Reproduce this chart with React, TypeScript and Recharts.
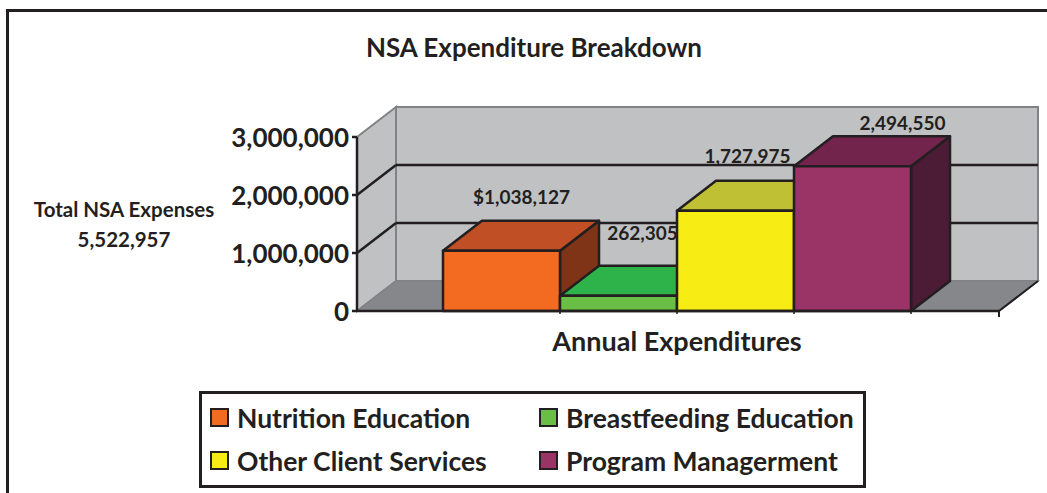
import React from 'react'
import { BarChart, Bar, XAxis, YAxis, CartesianGrid, Legend, LabelList, usePlotArea } from 'recharts'

const categories = ['Annual Expenditures']
const seriesNames = ['Nutrition Education', 'Breastfeeding Education', 'Other Client Services', 'Program Managerment']
const seriesValues = [1038127, 262305, 1727975, 2494550]
const labelPrefixes = ['$', '', '', '']
const yTicks = [0, 1000000, 2000000, 3000000]
const gridValues = [1000000, 2000000]

const frontColors = ['#f36a21', '#6abd45', '#f7ec13', '#9a3366']
const topColors = ['#c04f25', '#2eb34a', '#bfc033', '#72244d']
const sideColors = ['#7f3418', '#1e7a30', '#8a8a10', '#4c1b35']

// hand placed data labels, offset from the bar's front top centre
const labelNudgeX = [20, 24, 12, 50]
const labelNudgeY = [-54, -63, -55, -44]

const totalLabel = 'Total NSA Expenses'
const totalValue = '5,522,957'

const DEPTH_X = 39
const DEPTH_Y = 30
const INK = '#231f20'
const WALL = '#c0c1c3'
const WALL_EDGE = '#808285'
const FLOOR = '#86878a'
const FONT = 'Lato, sans-serif'

const table = categories.map((name) => {
  const row: Record<string, string | number> = { name }
  seriesNames.forEach((s, i) => {
    row[s] = seriesValues[i]
  })
  return row
})

const fmt = (v: number) => v.toLocaleString('en-US')

function Walls() {
  const plot = usePlotArea()
  if (!plot) return null
  const { x, y, width, height } = plot
  const r = x + width
  const b = y + height
  const bx = x + DEPTH_X
  const brx = r + DEPTH_X
  const by = y - DEPTH_Y
  const bb = b - DEPTH_Y
  return (
    <g>
      <polygon points={`${bx},${by} ${brx},${by} ${brx},${bb} ${bx},${bb}`} fill={WALL} stroke={WALL_EDGE} strokeWidth={2} />
      <polygon points={`${x},${y} ${bx},${by} ${bx},${bb} ${x},${b}`} fill={WALL} stroke={WALL_EDGE} strokeWidth={2} />
      <polygon points={`${x},${b} ${bx},${bb} ${brx},${bb} ${r},${b}`} fill={FLOOR} stroke={WALL_EDGE} strokeWidth={1.5} />
      <line x1={r} y1={b} x2={brx} y2={bb} stroke={INK} strokeWidth={2} />
      <line x1={r} y1={b} x2={r} y2={b + 6} stroke={INK} strokeWidth={2} />
    </g>
  )
}

// gridline runs up the side wall, then along the back wall.
// the walls go in with the first line so they stay underneath the grid
function gridLine(props: any) {
  const { x1, x2, y1, index } = props
  return (
    <g key={index}>
      {index === 0 && <Walls />}
      <line x1={x1} y1={y1} x2={x1 + DEPTH_X} y2={y1 - DEPTH_Y} stroke={INK} strokeWidth={2.5} />
      <line x1={x1 + DEPTH_X} y1={y1 - DEPTH_Y} x2={x2 + DEPTH_X} y2={y1 - DEPTH_Y} stroke={INK} strokeWidth={2.5} />
    </g>
  )
}

function boxShape(i: number) {
  return function Box(props: any) {
    const { x, y, width, height } = props
    const r = x + width
    const b = y + height
    return (
      <g stroke={INK} strokeWidth={2.5} strokeLinejoin="round">
        <polygon
          points={`${r},${y} ${r + DEPTH_X},${y - DEPTH_Y} ${r + DEPTH_X},${b - DEPTH_Y} ${r},${b}`}
          fill={sideColors[i]}
        />
        <polygon
          points={`${x},${y} ${x + DEPTH_X},${y - DEPTH_Y} ${r + DEPTH_X},${y - DEPTH_Y} ${r},${y}`}
          fill={topColors[i]}
        />
        <rect x={x} y={y} width={width} height={height} fill={frontColors[i]} />
        <line x1={r} y1={b} x2={r} y2={b + 3} strokeWidth={1.5} />
      </g>
    )
  }
}

function dataLabel(i: number) {
  return function DataLabel(props: any) {
    const { x, y, width, value } = props
    return (
      <text
        x={x + width / 2 + labelNudgeX[i]}
        y={y + labelNudgeY[i]}
        textAnchor="middle"
        dominantBaseline="central"
        fontFamily={FONT}
        fontWeight={700}
        fontSize={19}
        fill={INK}
      >
        {labelPrefixes[i] + fmt(value)}
      </text>
    )
  }
}

function LegendBox({ payload }: any) {
  const items = payload || []
  return (
    <div
      style={{
        boxSizing: 'border-box',
        width: 667,
        height: 97,
        border: `3px solid ${INK}`,
        background: '#fff',
        display: 'grid',
        gridTemplateColumns: '329px 1fr',
        gridAutoRows: '43px',
        padding: '2px 0 0 8px',
        fontFamily: FONT,
        fontWeight: 700,
        fontSize: 26.5,
        color: INK,
      }}
    >
      {items.map((it: any) => (
        <div key={it.value} style={{ display: 'flex', alignItems: 'center', whiteSpace: 'nowrap' }}>
          <span
            style={{
              display: 'inline-block',
              boxSizing: 'border-box',
              width: 19,
              height: 19,
              marginRight: 8,
              background: it.color,
              border: `2.5px solid ${INK}`,
            }}
          />
          {it.value}
        </div>
      ))}
    </div>
  )
}

export default function App() {
  return (
    <div style={{ position: 'absolute', left: 0, top: 0, width: 1047, height: 493, background: '#fff', overflow: 'hidden' }}>
      <div style={{ position: 'absolute', left: 6, top: 9, right: 0, bottom: 0, borderTop: `3px solid ${INK}`, borderLeft: `3px solid ${INK}` }} />
      <BarChart
        width={1047}
        height={493}
        data={table}
        margin={{ top: 137, right: 48, bottom: 0, left: 0 }}
        barGap={0}
        barSize={117}
        style={{ position: 'absolute', left: 0, top: 0 }}
      >
        <CartesianGrid vertical={false} horizontal={gridLine} horizontalValues={gridValues} />
        <XAxis
          dataKey="name"
          height={182}
          padding={{ left: 0, right: 2 }}
          tickLine={false}
          axisLine={{ stroke: INK, strokeWidth: 2.5 }}
          tick={{ fontFamily: FONT, fontWeight: 700, fontSize: 27, fill: INK, dy: 13 }}
        />
        <YAxis
          width={357}
          domain={[0, 3000000]}
          ticks={yTicks}
          interval={0}
          tickFormatter={fmt}
          tickSize={5}
          tickMargin={3}
          axisLine={{ stroke: INK, strokeWidth: 2.5 }}
          tickLine={{ stroke: INK, strokeWidth: 2.5 }}
          tick={{ fontFamily: FONT, fontWeight: 700, fontSize: 26, fill: INK, dy: 1 }}
        />
        {seriesNames.map((s, i) => (
          <Bar key={s} dataKey={s} name={s} fill={frontColors[i]} shape={boxShape(i)} isAnimationActive={false}>
            <LabelList dataKey={s} content={dataLabel(i)} />
          </Bar>
        ))}
        <Legend
          content={<LegendBox />}
          itemSorter={null}
          layout="horizontal"
          align="center"
          verticalAlign="middle"
          wrapperStyle={{ position: 'absolute', left: 199, top: 391, width: 667, height: 97 }}
        />
        <text x={534} y={47} textAnchor="middle" dominantBaseline="central" fontFamily={FONT} fontWeight={700} fontSize={26} fill={INK}>
          NSA Expenditure Breakdown
        </text>
        <text x={124} y={209} textAnchor="middle" dominantBaseline="central" fontFamily={FONT} fontWeight={700} fontSize={20.5} fill={INK}>
          {totalLabel}
        </text>
        <text x={124} y={239} textAnchor="middle" dominantBaseline="central" fontFamily={FONT} fontWeight={700} fontSize={20.5} fill={INK}>
          {totalValue}
        </text>
      </BarChart>
    </div>
  )
}
